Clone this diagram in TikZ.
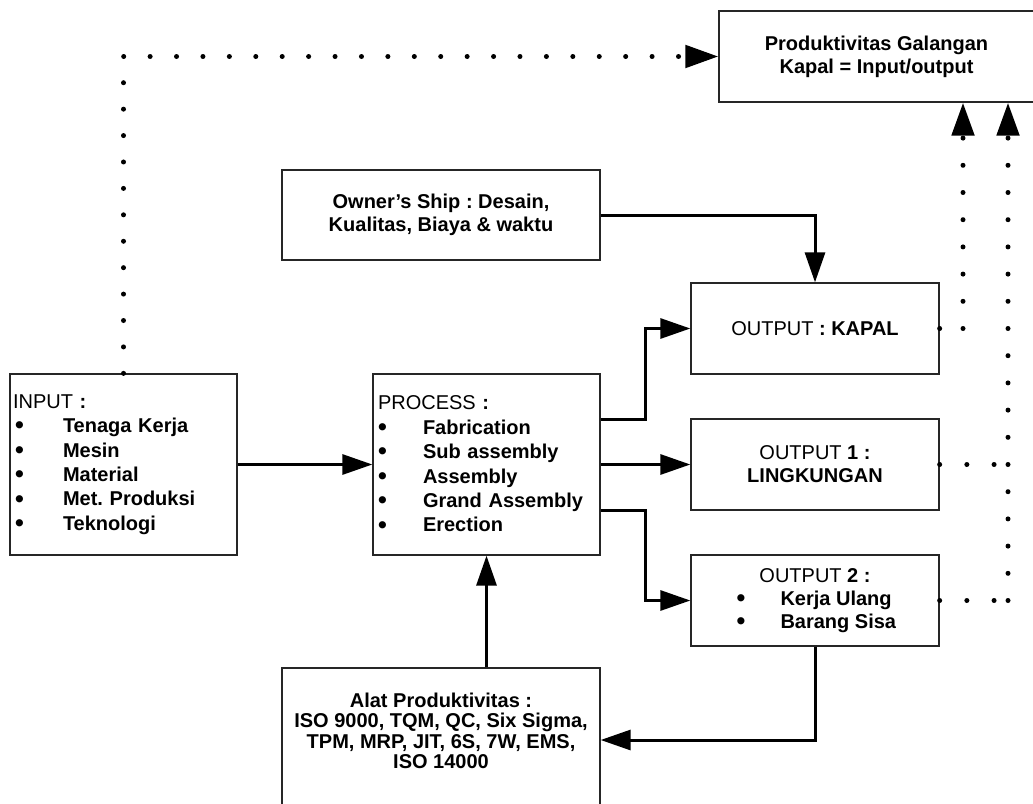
\documentclass[tikz,border=0pt]{standalone}
\usepackage{fontspec}
\setmainfont{Liberation Sans}
\usetikzlibrary{arrows.meta}
\frenchspacing
\newcommand\regtxt[1]{{\mdseries #1}}
\newcommand\bigbul{\raisebox{-0.06em}{\scalebox{1.25}{\textbullet}}}
\newcommand\bul[2]{\makebox[#1][l]{\bigbul}#2}
\begin{document}
\begin{tikzpicture}[x=1pt,y=-1pt,
  box/.style={draw=black!85, line width=1.3pt, inner sep=0pt,
    font=\bfseries\fontsize{20}{23}\selectfont, align=center},
  txt/.style={inner sep=0pt, font=\bfseries\fontsize{20}{20.4}\selectfont, align=center},
  conn/.style={line width=3pt, -{Triangle[length=30pt,width=20pt]}},
  dots/.style={line width=5pt, line cap=round, dash pattern=on 0pt off 27.2pt},
  dottip/.style={-{Triangle[length=33pt,width=22pt]}}]
\useasboundingbox (0,0) rectangle (1033,803);
\clip (0,0) rectangle (1033,803);

% boxes
\node[box, minimum width=315pt, minimum height=91pt] (top) at (876.5,56.5)
  {Produktivitas Galangan\\Kapal = Input/output};
\node[box, minimum width=318pt, minimum height=90pt] (owner) at (441,215)
  {Owner’s Ship : Desain,\\Kualitas, Biaya \& waktu};
\node[box, minimum width=227pt, minimum height=181pt, text width=221pt,
  align=left, inner xsep=3pt, font=\bfseries\fontsize{20}{24.4}\selectfont]
  (input) at (123.5,464.5)
  {\regtxt{INPUT} :\\
   \hspace*{2pt}\bul{48pt}{Tenaga Kerja}\\
   \hspace*{2pt}\bul{48pt}{Mesin}\\
   \hspace*{2pt}\bul{48pt}{Material}\\
   \hspace*{2pt}\bul{48pt}{Met. Produksi}\\
   \hspace*{2pt}\bul{48pt}{Teknologi}};
\node[box, minimum width=227pt, minimum height=181pt, text width=217pt,
  align=left, inner xsep=5pt, font=\bfseries\fontsize{20}{24.4}\selectfont]
  (process) at (486.5,464.5)
  {\regtxt{PROCESS} :\\
   \bul{45pt}{Fabrication}\\
   \bul{45pt}{Sub assembly}\\
   \bul{45pt}{Assembly}\\
   \bul{45pt}{Grand Assembly}\\
   \bul{45pt}{Erection}};
\node[box, minimum width=248pt, minimum height=91pt] (kapal) at (815,328.5)
  {\regtxt{OUTPUT} : KAPAL};
\node[box, minimum width=248pt, minimum height=91pt] (out1) at (815,464.5)
  {\regtxt{OUTPUT} 1 :\\LINGKUNGAN};
\node[box, minimum width=248pt, minimum height=91pt] (out2) at (815,600.5)
  {\regtxt{OUTPUT} 2 :\\
   \makebox[157pt][l]{\bul{44pt}{Kerja Ulang}}\\
   \makebox[157pt][l]{\bul{44pt}{Barang Sisa}}};
\node[box, minimum width=318pt, minimum height=156pt] (alat) at (441,746) {};
\node[txt] (alattext) at (441,731)
  {Alat Produktivitas :\\ISO 9000, TQM, QC, Six Sigma,\\TPM, MRP, JIT, 6S, 7W, EMS,\\ISO 14000};

% solid connectors
\draw[conn] (input.east) -- (process.west);
\draw[conn] ([yshift=45.5pt]process.east) -- ++(45,0) |- (kapal.west);
\draw[conn] (process.east) -- (out1.west);
\draw[conn] ([yshift=-45.5pt]process.east) -- ++(45,0) |- (out2.west);
\draw[conn] (owner.east) -| (kapal.north);
\draw[conn] (process.south |- alat.north) -- (process.south);
\draw[conn] (out2.south) |- ([yshift=6pt]alat.east);

% dotted connectors
\coordinate (corner) at (input.north |- top.west);
\coordinate (c0) at (963,328.5);
\coordinate (c1) at (1008,464.5);
\coordinate (c2) at (1008,600.5);
\draw[dots, dash pattern=on 0pt off 26.42pt, dottip] (input.north) -- (corner) -- (top.west);
\draw[dots] (kapal.east) -- (c0);
\draw[dots, dottip] (c0) -- (c0 |- top.south);
\draw[dots] (out1.east) -- (c1);
\draw[dots] (out2.east) -- (c2);
\draw[dots, dottip] (c2) -- (c2 |- top.south);
\end{tikzpicture}
\end{document}
